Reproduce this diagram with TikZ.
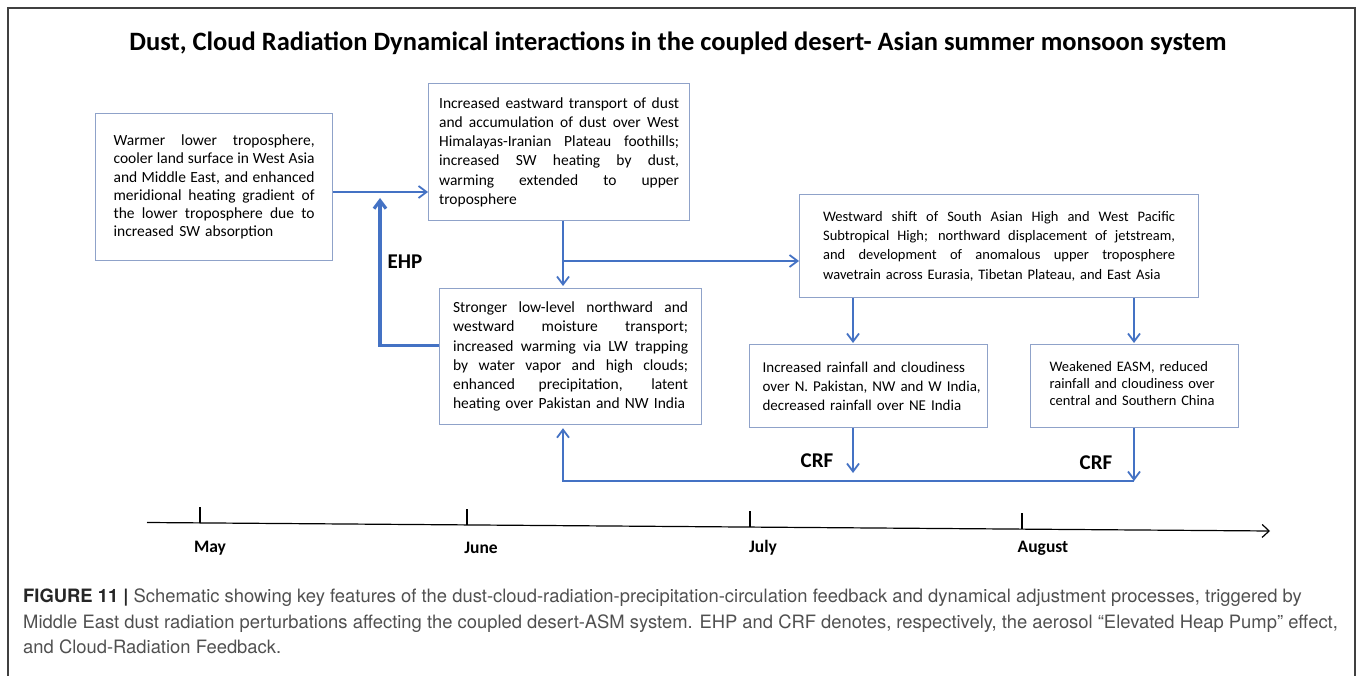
\documentclass[tikz,border=0pt]{standalone}
\usepackage{fontspec}
\setmainfont{Carlito}
\newfontfamily\capfont{TeX Gyre Heros}
\usetikzlibrary{arrows.meta}
\definecolor{flowblue}{RGB}{68,114,196}
\definecolor{boxgray}{RGB}{143,162,201}
\definecolor{capgray}{RGB}{80,80,80}
\newcommand{\jl}[1]{\makebox[\hsize][s]{\spaceskip=.23em plus 1fil minus .1em\relax #1}\\}

\begin{document}
\begin{tikzpicture}[x=1pt,y=-1pt,>={Straight Barb[length=8pt,width=12pt]},
  box/.style={draw=boxgray,line width=1.2pt,anchor=north west,inner sep=0pt,align=left},
  flow/.style={->,flowblue,line width=1.8pt},
  fb/.style={font=\bfseries\fontsize{21}{24}\selectfont}]
\useasboundingbox (0,0) rectangle (1358,676);
\draw[black!75,line width=1.5pt] (8,676) -- (8,8) -- (1355,8) -- (1355,676);
\node[font=\bfseries\fontsize{26.5}{30}\selectfont] (title) at (678,43)
  {Dust, Cloud Radiation Dynamical interactions in the coupled desert- Asian summer monsoon system};

\node[box,minimum width=237,minimum height=147,text width=201,font=\fontsize{15.5}{18.3}\selectfont] (warm) at (95,113)
  {\jl{Warmer lower troposphere,}\jl{cooler land surface in West Asia}\jl{and Middle East, and enhanced}\jl{meridional heating gradient of}\jl{the lower troposphere due to}increased SW absorption};
\node[box,minimum width=261,minimum height=137,text width=240,font=\fontsize{15.5}{19.2}\selectfont] (dust) at (428,83)
  {\jl{Increased eastward transport of dust}\jl{and accumulation of dust over West}\jl{Himalayas-Iranian Plateau foothills;}\jl{increased SW heating by dust,}\jl{warming extended to upper}troposphere};
\node[box,minimum width=262,minimum height=136,text width=235,font=\fontsize{15.5}{19.2}\selectfont] (moist) at (439,288)
  {\jl{Stronger low-level northward and}\jl{westward moisture transport;}\jl{increased warming via LW trapping}\jl{by water vapor and high clouds;}\jl{enhanced precipitation, latent}heating over Pakistan and NW India};
\node[box,minimum width=399,minimum height=103,text width=352,font=\fontsize{14.5}{19.3}\selectfont] (shift) at (799,194)
  {\jl{Westward shift of South Asian High and West Pacific}\jl{Subtropical High; northward displacement of jetstream,}\jl{and development of anomalous upper troposphere}wavetrain across Eurasia, Tibetan Plateau, and East Asia};
\node[box,minimum height=83,text width=212,inner xsep=13pt,font=\fontsize{15}{19}\selectfont] (rain) at (749,344)
  {\mbox{Increased rainfall and cloudiness}\\\mbox{over N. Pakistan, NW and W India,}\\\mbox{decreased rainfall over NE India}};
\node[box,minimum width=208,minimum height=83,text width=170,font=\fontsize{14.5}{16.8}\selectfont] (china) at (1030,344)
  {Weakened EASM, reduced\\rainfall and cloudiness over\\central and Southern China\vspace{5pt}};

\coordinate (ab) at (332,192);
\coordinate (split) at (563,261);
\coordinate (ehptop) at (380,198);
\coordinate (crfa) at (853,473);
\coordinate (crfb) at (1134,481);
\coordinate (loop) at (563,481);

\draw[flow] (warm.east |- ab) -- (dust.west |- ab);
\draw[flowblue,->,line width=3.2pt] ([yshift=11pt]moist.west) -| (ehptop);
\draw[flow] (dust.south -| split) -- ([yshift=2pt]moist.north -| split);
\draw[flow] (split) -- (shift.west |- split);
\draw[flow] (shift.south -| crfa) -- ([yshift=1pt]rain.north -| crfa);
\draw[flow] (shift.south -| crfb) -- ([yshift=1pt]china.north -| crfb);
\draw[flow] (rain.south -| crfa) -- (crfa);
\draw[flow] (china.south -| crfb) -- (crfb);
\draw[flow] (crfb) -- (loop) -- ([yshift=-3pt]moist.south -| loop);

\node[fb] (ehp) at (405,262) {EHP};
\node[fb] (crf1) at (817,461) {CRF};
\node[fb] (crf2) at (1096,463) {CRF};

\draw[->,line width=1.2pt,>={Straight Barb[length=7pt,width=13pt]}] (147,522.5) -- (1270,531);
\foreach \x/\lx/\m in {200/210/May,467/481/June,750/763/July,1022/1043/August}{
  \draw[line width=1.2pt] (\x,{522.5+8.5*(\x-147)/1123}) -- ++(0,-16);
  \node[font=\bfseries\fontsize{17.5}{20}\selectfont] (m-\m) at (\lx,548) {\m};
}

\node[anchor=north west,inner sep=0pt,align=left,text=capgray,font=\capfont\fontsize{18.4}{25.5}\selectfont] (cap) at (23,589)
  {{\bfseries\color{black!85}FIGURE 11 |} Schematic showing key features of the dust-cloud-radiation-precipitation-circulation feedback and dynamical adjustment processes, triggered by\\
   Middle East dust radiation perturbations affecting the coupled desert-ASM system. EHP and CRF denotes, respectively, the aerosol “Elevated Heap Pump” effect,\\
   and Cloud-Radiation Feedback.};
\end{tikzpicture}
\end{document}
